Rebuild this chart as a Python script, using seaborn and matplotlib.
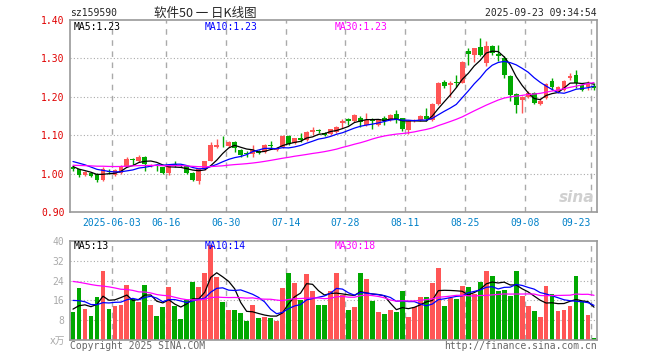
import numpy as np
import pandas as pd
import matplotlib
matplotlib.use("Agg")
import matplotlib.pyplot as plt
import seaborn as sns

sns.set_style("white")
plt.rcParams['font.family'] = ['DejaVu Sans Mono', 'Noto Sans CJK SC']

# ---- data ----
tick_pos = [7, 16, 26, 36, 46, 56, 66, 76, 87]
tick_labels = ['2025-06-03', '06-16', '06-30', '07-14', '07-28',
               '08-11', '08-25', '09-08', '09-23']
price_ma_text = ['MA5:1.23', 'MA10:1.23', 'MA30:1.23']
vol_ma_text = ['MA5:13', 'MA10:14', 'MA30:18']

open_ = [1.018, 1.011, 0.997, 1.002, 0.999, 0.984, 1.008, 0.996, 1.002, 1.018,
         1.039, 1.034, 1.044, 1.019, 1.022, 1.016, 1.002, 1.025, 1.021, 1.019,
         1.002, 0.982, 1.013, 1.034, 1.070, 1.072, 1.072, 1.083, 1.062, 1.054,
         1.052, 1.059, 1.056, 1.075, 1.062, 1.070, 1.098, 1.080, 1.092, 1.087,
         1.109, 1.114, 1.105, 1.103, 1.108, 1.131, 1.141, 1.138, 1.146, 1.127,
         1.141, 1.127, 1.146, 1.140, 1.155, 1.144, 1.114, 1.139, 1.140, 1.150,
         1.140, 1.181, 1.239, 1.231, 1.237, 1.237, 1.318, 1.309, 1.329, 1.287,
         1.332, 1.311, 1.300, 1.254, 1.207, 1.192, 1.200, 1.211, 1.181, 1.196,
         1.241, 1.213, 1.219, 1.248, 1.257, 1.231, 1.225, 1.228]
high = [1.021, 1.013, 1.006, 1.005, 1.001, 1.016, 1.011, 1.011, 1.022, 1.044,
        1.041, 1.048, 1.046, 1.026, 1.025, 1.018, 1.023, 1.032, 1.024, 1.021,
        1.004, 1.014, 1.034, 1.082, 1.091, 1.098, 1.086, 1.086, 1.064, 1.060,
        1.074, 1.062, 1.076, 1.085, 1.068, 1.100, 1.100, 1.094, 1.106, 1.111,
        1.122, 1.116, 1.108, 1.117, 1.125, 1.142, 1.146, 1.154, 1.150, 1.157,
        1.144, 1.143, 1.150, 1.155, 1.165, 1.146, 1.140, 1.143, 1.153, 1.170,
        1.183, 1.238, 1.244, 1.240, 1.257, 1.293, 1.326, 1.328, 1.352, 1.345,
        1.336, 1.335, 1.305, 1.256, 1.210, 1.202, 1.214, 1.213, 1.196, 1.236,
        1.248, 1.228, 1.243, 1.261, 1.270, 1.235, 1.240, 1.235]
low = [1.008, 0.990, 0.994, 0.990, 0.979, 0.982, 1.000, 0.993, 1.000, 1.016,
       1.023, 1.031, 1.006, 1.016, 1.008, 0.998, 0.997, 1.018, 1.016, 0.999,
       0.980, 0.974, 1.010, 1.032, 1.067, 1.070, 1.070, 1.057, 1.042, 1.043,
       1.042, 1.050, 1.053, 1.066, 1.058, 1.066, 1.074, 1.076, 1.083, 1.085,
       1.100, 1.106, 1.098, 1.100, 1.105, 1.118, 1.127, 1.135, 1.122, 1.125,
       1.115, 1.125, 1.127, 1.137, 1.131, 1.112, 1.103, 1.135, 1.137, 1.138,
       1.138, 1.179, 1.222, 1.200, 1.226, 1.235, 1.283, 1.291, 1.305, 1.280,
       1.310, 1.292, 1.250, 1.190, 1.157, 1.157, 1.196, 1.180, 1.178, 1.194,
       1.218, 1.210, 1.216, 1.245, 1.222, 1.214, 1.218, 1.218]
close = [1.011, 0.996, 1.003, 0.995, 0.984, 1.013, 1.004, 1.009, 1.019, 1.037,
         1.036, 1.044, 1.024, 1.023, 1.019, 1.002, 1.020, 1.021, 1.019, 1.002,
         0.984, 1.011, 1.032, 1.074, 1.074, 1.071, 1.083, 1.066, 1.049, 1.051,
         1.061, 1.054, 1.074, 1.073, 1.066, 1.098, 1.077, 1.092, 1.087, 1.109,
         1.113, 1.110, 1.101, 1.115, 1.122, 1.138, 1.138, 1.152, 1.135, 1.140,
         1.138, 1.141, 1.138, 1.153, 1.141, 1.115, 1.138, 1.140, 1.150, 1.141,
         1.181, 1.235, 1.229, 1.237, 1.236, 1.291, 1.312, 1.326, 1.309, 1.332,
         1.315, 1.307, 1.257, 1.205, 1.179, 1.200, 1.211, 1.183, 1.190, 1.233,
         1.225, 1.225, 1.241, 1.254, 1.235, 1.218, 1.233, 1.224]
volume = [11.2, 20.9, 12.7, 9.8, 17.3, 27.8, 12.7, 13.6, 14.3, 22.4,
          16.6, 15.2, 22.4, 14.3, 9.8, 13.2, 21.6, 13.6, 8.4, 16.2,
          23.4, 21.4, 27.1, 38.4, 25.5, 15.2, 12.2, 12.2, 10.8, 7.5,
          14.3, 8.7, 9.1, 8.7, 7.5, 20.9, 27.1, 23.0, 16.3, 26.5,
          19.6, 14.1, 14.3, 19.6, 27.1, 18.0, 12.2, 13.2, 27.1, 24.5,
          15.9, 11.2, 10.5, 12.2, 11.5, 20.0, 9.1, 13.2, 17.3, 17.3,
          23.0, 28.9, 13.9, 17.0, 16.6, 22.0, 21.6, 18.6, 23.4, 27.8,
          25.7, 19.7, 20.3, 17.7, 27.8, 17.9, 13.6, 11.8, 9.4, 22.0,
          18.4, 11.8, 12.1, 13.9, 25.7, 15.6, 10.2, 0.9]

# sessions before the window, only used to start the moving averages
prev_close = [1.012, 1.018, 1.015, 1.009, 1.014, 1.021, 1.019, 1.013, 1.010, 1.016,
              1.022, 1.018, 1.014, 1.020, 1.024, 1.019, 1.015, 1.021, 1.023, 1.017,
              1.038, 1.047, 1.052, 1.044, 1.041, 1.030, 1.022, 1.016, 1.013]
prev_volume = [31, 26, 24, 29, 35, 22, 27, 30, 25, 28, 33, 24, 26, 29, 23, 27, 31, 26, 28, 26,
               22, 17, 21, 18, 19.5, 14, 11, 13.5, 12.7]

RED = '#ff5555'
GREEN = '#00a800'
GRID = '#aaaaaa'
FRAME = '#999999'
MA_COLORS = ['black', 'blue', 'magenta']
MA_WIN = [5, 10, 30]

n = len(close)
idx = np.arange(n)
df = pd.DataFrame({'open': open_, 'high': high, 'low': low, 'close': close, 'volume': volume})
df['dir'] = np.where(df['close'] >= df['open'], 'up', 'down')
colors = np.where(df['dir'] == 'up', RED, GREEN)

allc = pd.Series(prev_close + close)
allv = pd.Series(prev_volume + volume)
ma = {w: allc.rolling(w, min_periods=1).mean().values[-n:] for w in MA_WIN}
vma = {w: allv.rolling(w, min_periods=1).mean().values[-n:] for w in MA_WIN}

W, H = 660, 360
fig = plt.figure(figsize=(W / 100, H / 100), dpi=100)
ax1 = fig.add_axes([70 / W, 1 - 212 / H, 527 / W, 192 / H])
ax2 = fig.add_axes([70 / W, 1 - 340 / H, 527 / W, 99 / H])

def px(x, y):
    return x / W, 1 - y / H

# ---- candles ----
ax1.vlines(idx, df['low'], df['high'], colors=colors, lw=1)
body_lo = np.minimum(df['open'], df['close'])
body_h = np.maximum(np.abs(df['close'] - df['open']), 0.0015)
ax1.bar(idx, body_h, bottom=body_lo, width=0.8, color=colors, lw=0)

for w, c in zip(MA_WIN, MA_COLORS):
    sns.lineplot(x=idx, y=ma[w], color=c, lw=0.9, ax=ax1)

ax1.set_xlim(-0.5, n - 0.5)
ax1.set_ylim(0.90, 1.40)
yt = [0.9, 1.0, 1.1, 1.2, 1.3, 1.4]
ax1.set_yticks(yt)
ax1.set_yticklabels(['%.2f' % v for v in yt], color='#e00000', fontsize=7)
ax1.set_xticks([p - 0.5 for p in tick_pos])
ax1.set_xticklabels(tick_labels, color='#0080c8', fontsize=7)
ax1.get_xticklabels()[-1].set_ha('right')
ax1.tick_params(length=0, pad=4)
for v in yt[1:-1]:
    ax1.axhline(v, color=GRID, ls=(0, (1, 2)), lw=0.8, zorder=0)

# ---- volume ----
sns.barplot(x=idx, y=df['volume'], hue=df['dir'], palette={'up': RED, 'down': GREEN},
            native_scale=True, dodge=False, width=0.8, saturation=1, linewidth=0,
            legend=False, ax=ax2)
for w, c in zip(MA_WIN, MA_COLORS):
    sns.lineplot(x=idx, y=vma[w], color=c, lw=0.9, ax=ax2)
ax2.set_xlim(-0.5, n - 0.5)
ax2.set_ylim(0, 40)
vt = [8, 16, 24, 32, 40]
ax2.set_yticks(vt)
ax2.set_yticklabels([str(v) for v in vt], color='#aaaaaa', fontsize=7)
ax2.set_xticks([p - 0.5 for p in tick_pos])
ax2.set_xticklabels([])
ax2.tick_params(length=0, pad=4)
ax2.set_xlabel('')
ax2.set_ylabel('')
for v in vt[:-1]:
    ax2.axhline(v, color=GRID, ls=(0, (1, 2)), lw=0.8, zorder=0)

for ax in (ax1, ax2):
    for p in tick_pos:
        ax.axvline(p - 0.5, color=GRID, ls=(0, (4, 4)), lw=1, zorder=0)
    for s in ax.spines.values():
        s.set_color(FRAME)
        s.set_linewidth(1.2)

# ---- texts ----
fig.text(*px(70, 13), 'sz159590', fontsize=7, ha='left', va='center')
fig.text(*px(205, 13), '软件50 一 日K线图', fontsize=9, ha='center', va='center',
         family=['Noto Sans CJK SC', 'DejaVu Sans'])
fig.text(*px(597, 13), '2025-09-23 09:34:54', fontsize=7, ha='right', va='center')

for x, t, c in zip([74, 205, 335], price_ma_text, MA_COLORS):
    fig.text(*px(x, 27), t, fontsize=7, color=c, va='center')
for x, t, c in zip([74, 205, 335], vol_ma_text, MA_COLORS):
    fig.text(*px(x, 246), t, fontsize=7, color=c, va='center')

fig.text(*px(65, 341), 'x万', fontsize=7, color='#aaaaaa', ha='right', va='center',
         family=['DejaVu Sans', 'Noto Sans CJK SC'])
fig.text(*px(70, 346), 'Copyright 2025 SINA.COM', fontsize=7, color='#666666', va='center')
fig.text(*px(597, 346), 'http://finance.sina.com.cn', fontsize=7, color='#666666',
         ha='right', va='center')
fig.text(*px(594, 197), 'sina', fontsize=11, color='#d0d0d0', ha='right', va='center',
         style='italic', weight='bold', family='DejaVu Sans')

fig.savefig('out.png', dpi=100)
